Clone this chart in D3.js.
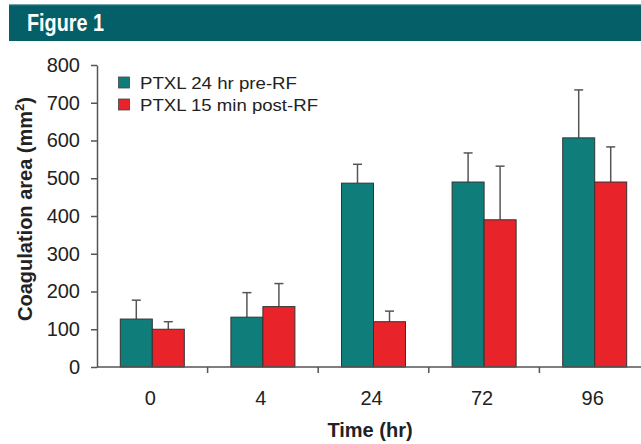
<!DOCTYPE html>
<html><head><meta charset="utf-8">
<script src="https://cdn.jsdelivr.net/npm/d3@7"></script>
<style>body{margin:0;background:#fff}svg{display:block}</style>
</head><body>
<svg id="c" width="641" height="444"></svg>
<script>
const categories = ["0","4","24","72","96"];
const seriesNames = ["PTXL 24 hr pre-RF","PTXL 15 min post-RF"];
const preRF = [127,132,487,490,607];
const preRFErr = [177,197,537,567,734];
const postRF = [100,160,120,390,490];
const postRFErr = [120,221,148,532,583];
const yTicks = [0,100,200,300,400,500,600,700,800];
const colors = ["#0F7E7A","#E8232A"];

const svg = d3.select("#c");
const font = "'Liberation Sans', Arial, Helvetica, sans-serif";

// header band
svg.append("rect").attr("x",9).attr("y",4).attr("width",632).attr("height",37).attr("fill","#045F69");
svg.append("rect").attr("x",9).attr("y",4).attr("width",632).attr("height",1.2).attr("fill","#6FA3A8");
svg.append("text").attr("x",27).attr("y",31).text("Figure 1")
  .attr("fill","#fff").attr("font-family",font)
  .attr("font-weight","bold").attr("font-size",24)
  .attr("textLength",77).attr("lengthAdjust","spacingAndGlyphs");

const y = d3.scaleLinear().domain([0,800]).range([367,65]);
const x0 = d3.scaleBand().domain(categories).range([97,650]);
const x1 = d3.scaleBand().domain([0,1]).range([0,x0.bandwidth()]).paddingInner(0).paddingOuter(0.728);

const data = categories.map((c,i)=>({c, vals:[{s:0,v:preRF[i],e:preRFErr[i]},{s:1,v:postRF[i],e:postRFErr[i]}]}));

const g = svg.append("g");
const groups = g.selectAll("g.grp").data(data).join("g").attr("transform",d=>`translate(${x0(d.c)},0)`);
// error bars
groups.selectAll("g.err").data(d=>d.vals).join("g").each(function(d){
  const gg = d3.select(this);
  const cx = x1(d.s)+x1.bandwidth()/2;
  gg.append("line").attr("x1",cx).attr("x2",cx).attr("y1",y(d.v)).attr("y2",y(d.e)).attr("stroke","#555").attr("stroke-width",1.5);
  gg.append("line").attr("x1",cx-4.5).attr("x2",cx+4.5).attr("y1",y(d.e)).attr("y2",y(d.e)).attr("stroke","#555").attr("stroke-width",1.5);
});
groups.selectAll("rect").data(d=>d.vals).join("rect")
  .attr("x",d=>x1(d.s)).attr("width",x1.bandwidth())
  .attr("y",d=>y(d.v)).attr("height",d=>y(0)-y(d.v))
  .attr("fill",d=>colors[d.s]).attr("stroke","#333").attr("stroke-width",1);

// y axis
const ya = svg.append("g").attr("transform","translate(97,0)")
  .call(d3.axisLeft(y).tickValues(yTicks).tickSize(6).tickSizeOuter(0).tickPadding(11));
ya.selectAll("text").attr("font-family",font).attr("font-size",20).attr("fill","#222");
ya.selectAll("line,path").attr("stroke","#555").attr("stroke-width",1.5);

// x axis
const xa = svg.append("g");
xa.append("line").attr("x1",97).attr("x2",641).attr("y1",y(0)).attr("y2",y(0)).attr("stroke","#555").attr("stroke-width",1.5);
const tickPos = categories.map(c=>x0(c)).concat([x0(categories[categories.length-1])+x0.bandwidth()]);
xa.selectAll("line.t").data(tickPos.slice(1)).join("line").attr("class","t")
  .attr("x1",d=>d).attr("x2",d=>d).attr("y1",y(0)).attr("y2",y(0)+6).attr("stroke","#555").attr("stroke-width",1.5);
xa.selectAll("text").data(categories).join("text")
  .attr("x",d=>x0(d)+x0.bandwidth()/2-2).attr("y",405).attr("text-anchor","middle")
  .attr("font-family",font).attr("font-size",20).attr("fill","#222").text(d=>d);

// axis titles
svg.append("text").attr("x",370).attr("y",437).attr("text-anchor","middle")
  .attr("font-family",font).attr("font-weight","bold").attr("font-size",20).attr("fill","#222").text("Time (hr)");
const yt = svg.append("text").attr("transform","translate(32,209) rotate(-90)").attr("text-anchor","middle")
  .attr("font-family",font).attr("font-weight","bold").attr("font-size",20).attr("fill","#222");
yt.append("tspan").text("Coagulation area (mm");
yt.append("tspan").attr("font-size",13).attr("dy",-8).text("2");
yt.append("tspan").attr("dy",8).text(")");

// legend
const legendWidths = [157,178];
const lg = svg.append("g").selectAll("g").data(seriesNames).join("g")
  .attr("transform",(d,i)=>`translate(118.5,${77+i*22})`);
lg.append("rect").attr("width",11).attr("height",11).attr("fill",(d,i)=>colors[i]).attr("stroke","#444").attr("stroke-width",0.8);
lg.append("text").attr("x",21.5).attr("y",11.5).attr("font-family",font).attr("font-size",17).attr("fill","#222")
  .attr("textLength",(d,i)=>legendWidths[i]).attr("lengthAdjust","spacingAndGlyphs").text(d=>d);
</script>
</body></html>
